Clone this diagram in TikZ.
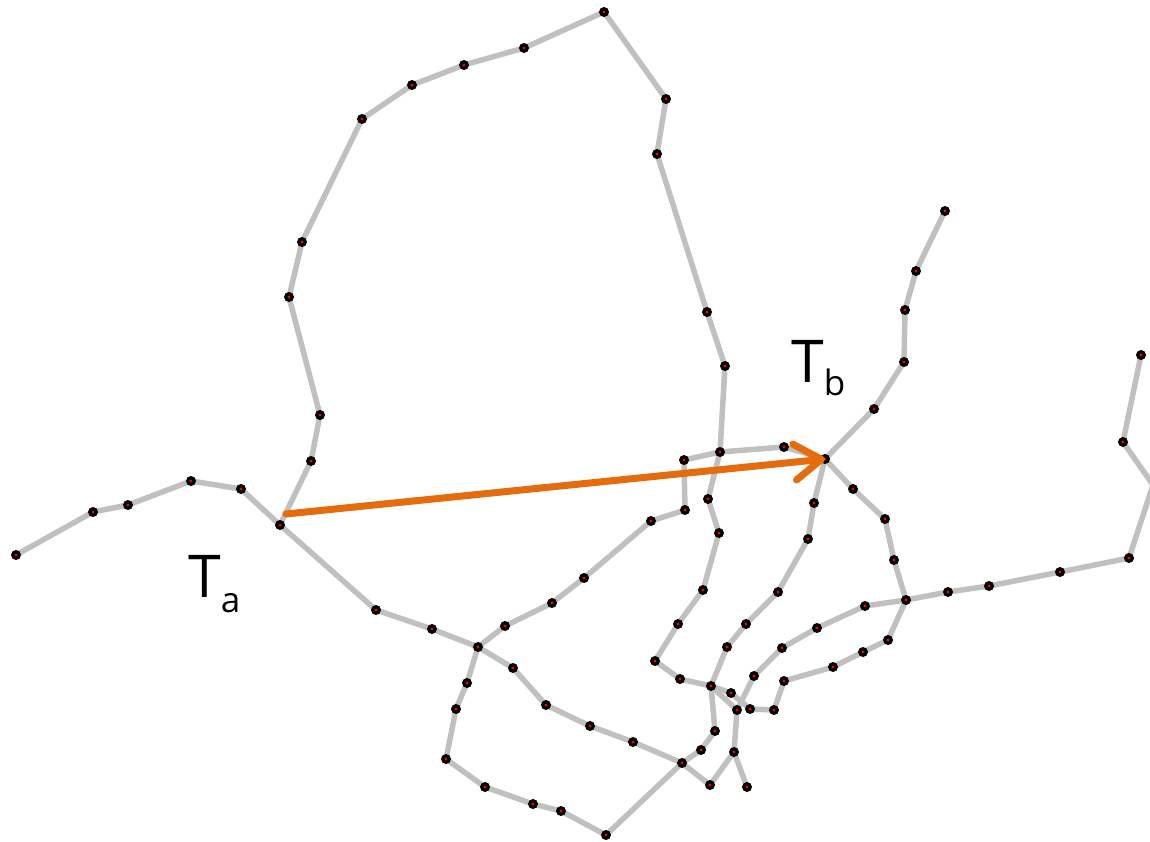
\documentclass[tikz,border=0pt]{standalone}
\usepackage{fontspec}
\setmainfont{Open Sans}
\usetikzlibrary{arrows.meta}
\definecolor{trackgray}{RGB}{192,192,192}
\definecolor{linkorange}{RGB}{228,108,12}
\tikzset{
  edge/.style={draw=trackgray, line width=5.5pt, line cap=round, line join=round},
  vtx/.style={circle, fill=black, inner sep=0pt, minimum size=10pt,
    path picture={\fill[red] (path picture bounding box.center) circle (1.7pt);}},
  link/.style={draw=linkorange, line width=7pt, line cap=round,
    -{Straight Barb[length=27pt,width=36pt,round]}},
  lbl/.style={font=\fontsize{59}{59}\selectfont, inner sep=0pt, anchor=base west}
}
\begin{document}
\begin{tikzpicture}[x=1pt,y=-1pt]
    \clip (0,0) rectangle (1150,842);

    % Left tail into T_a
    \coordinate (l1) at (16,555);
    \coordinate (l2) at (93,512);
    \coordinate (l3) at (128,505);
    \coordinate (l4) at (191,481);
    \coordinate (l5) at (241,489);
    \coordinate (Ta) at (280,525);

    % Upper loop
    \coordinate (u1) at (311,461);
    \coordinate (u2) at (320,415);
    \coordinate (u3) at (289,297);
    \coordinate (u4) at (302,242);
    \coordinate (u5) at (362,119);
    \coordinate (u6) at (412,85);
    \coordinate (u7) at (464,65);
    \coordinate (u8) at (524,48);
    \coordinate (u9) at (604,12);
    \coordinate (u10) at (666,99);
    \coordinate (u11) at (657,154);
    \coordinate (u12) at (707,312);
    \coordinate (u13) at (725,366);
    \coordinate (u14) at (720,452);
    \coordinate (u15) at (708,499);
    \coordinate (u16) at (719,533);
    \coordinate (u17) at (703,590);
    \coordinate (u18) at (678,624);
    \coordinate (u19) at (655,661);
    \coordinate (u20) at (680,679);

    % Junctions
    \coordinate (J1) at (711,686);
    \coordinate (J2) at (478,647);
    \coordinate (J3) at (682,763);
    \coordinate (J4) at (734,752);
    \coordinate (J5) at (737,710);
    \coordinate (K) at (906,600);
    \coordinate (Tb) at (825,459);

    % Lower branch from T_a
    \coordinate (c1) at (376,610);
    \coordinate (c2) at (432,629);
    \coordinate (c4) at (513,668);
    \coordinate (c5) at (546,705);
    \coordinate (c6) at (590,726);
    \coordinate (c7) at (633,742);
    \coordinate (c9) at (710,785);
    \coordinate (c11) at (747,787);

    % Middle branch to T_b
    \coordinate (m1) at (505,626);
    \coordinate (m2) at (552,603);
    \coordinate (m3) at (584,578);
    \coordinate (m4) at (651,521);
    \coordinate (m5) at (685,510);
    \coordinate (m6) at (684,460);
    \coordinate (m7) at (784,447);

    % Bottom loop
    \coordinate (s1) at (467,683);
    \coordinate (s2) at (456,709);
    \coordinate (s3) at (446,759);
    \coordinate (s4) at (485,787);
    \coordinate (s5) at (533,804);
    \coordinate (s6) at (561,811);
    \coordinate (s7) at (606,835);
    \coordinate (v1) at (701,750);
    \coordinate (v2) at (715,731);

    % Branches near T_b
    \coordinate (w1) at (731,693);
    \coordinate (w2) at (750,709);
    \coordinate (w3) at (774,710);
    \coordinate (w4) at (784,681);
    \coordinate (w5) at (833,667);
    \coordinate (w6) at (863,652);
    \coordinate (w7) at (888,640);
    \coordinate (t1) at (727,647);
    \coordinate (t2) at (746,624);
    \coordinate (t3) at (778,592);
    \coordinate (t4) at (808,539);
    \coordinate (t5) at (814,503);
    \coordinate (r1) at (754,676);
    \coordinate (r2) at (782,648);
    \coordinate (r3) at (817,628);
    \coordinate (r4) at (865,606);
    \coordinate (d1) at (853,489);
    \coordinate (d2) at (885,519);
    \coordinate (d3) at (894,560);
    \coordinate (e1) at (874,409);
    \coordinate (e2) at (904,362);
    \coordinate (e3) at (905,310);
    \coordinate (e4) at (916,271);
    \coordinate (e5) at (945,211);

    % Right branch
    \coordinate (f1) at (948,592);
    \coordinate (f2) at (989,586);
    \coordinate (f3) at (1060,572);
    \coordinate (f4) at (1129,558);
    \coordinate (f5) at (1153,485);
    \coordinate (f6) at (1123,442);
    \coordinate (f7) at (1141,355);

    % Tracks
    \draw[edge] (l1) -- (l2) -- (l3) -- (l4) -- (l5) -- (Ta);
    \draw[edge] (Ta) -- (u1) -- (u2) -- (u3) -- (u4) -- (u5) -- (u6) -- (u7) -- (u8) -- (u9)
        -- (u10) -- (u11) -- (u12) -- (u13) -- (u14) -- (u15) -- (u16) -- (u17) -- (u18)
        -- (u19) -- (u20) -- (J1);
    \draw[edge] (Ta) -- (c1) -- (c2) -- (J2) -- (c4) -- (c5) -- (c6) -- (c7) -- (J3)
        -- (c9) -- (J4) -- (c11);
    \draw[edge] (J4) -- (J5) -- (J1);
    \draw[edge] (J2) -- (m1) -- (m2) -- (m3) -- (m4) -- (m5) -- (m6) -- (u14) -- (m7) -- (Tb);
    \draw[edge] (J2) -- (s1) -- (s2) -- (s3) -- (s4) -- (s5) -- (s6) -- (s7) -- (J3);
    \draw[edge] (J3) -- (v1) -- (v2) -- (J1);
    \draw[edge] (J1) -- (w1) -- (w2) -- (w3) -- (w4) -- (w5) -- (w6) -- (w7) -- (K);
    \draw[edge] (J1) -- (t1) -- (t2) -- (t3) -- (t4) -- (t5) -- (Tb);
    \draw[edge] (J5) -- (r1) -- (r2) -- (r3) -- (r4) -- (K);
    \draw[edge] (Tb) -- (d1) -- (d2) -- (d3) -- (K);
    \draw[edge] (Tb) -- (e1) -- (e2) -- (e3) -- (e4) -- (e5);
    \draw[edge] (K) -- (f1) -- (f2) -- (f3) -- (f4) -- (f5) -- (f6) -- (f7);

    % Detections
    \foreach \p in {l1,l2,l3,l4,l5,Ta,u1,u2,u3,u4,u5,u6,u7,u8,u9,u10,u11,u12,u13,u14,
        u15,u16,u17,u18,u19,u20,J1,J2,J3,J4,J5,K,Tb,c1,c2,c4,c5,c6,c7,c9,c11,
        m1,m2,m3,m4,m5,m6,m7,s1,s2,s3,s4,s5,s6,s7,v1,v2,w1,w2,w3,w4,w5,w6,w7,
        t1,t2,t3,t4,t5,r1,r2,r3,r4,d1,d2,d3,e1,e2,e3,e4,e5,f1,f2,f3,f4,f6,f7}
        \node[vtx] at (\p) {};

    % Link from T_a to T_b
    \coordinate (arrS) at (286,514);
    \draw[link] (arrS) -- (Tb);

    % Labels
    \node[lbl] (TaLbl) at (188,597) {T\raisebox{-15pt}{\fontsize{35}{35}\selectfont a}};
    \node[lbl] (TbLbl) at (791,382) {T\raisebox{-13pt}{\fontsize{35}{35}\selectfont b}};
\end{tikzpicture}
\end{document}
